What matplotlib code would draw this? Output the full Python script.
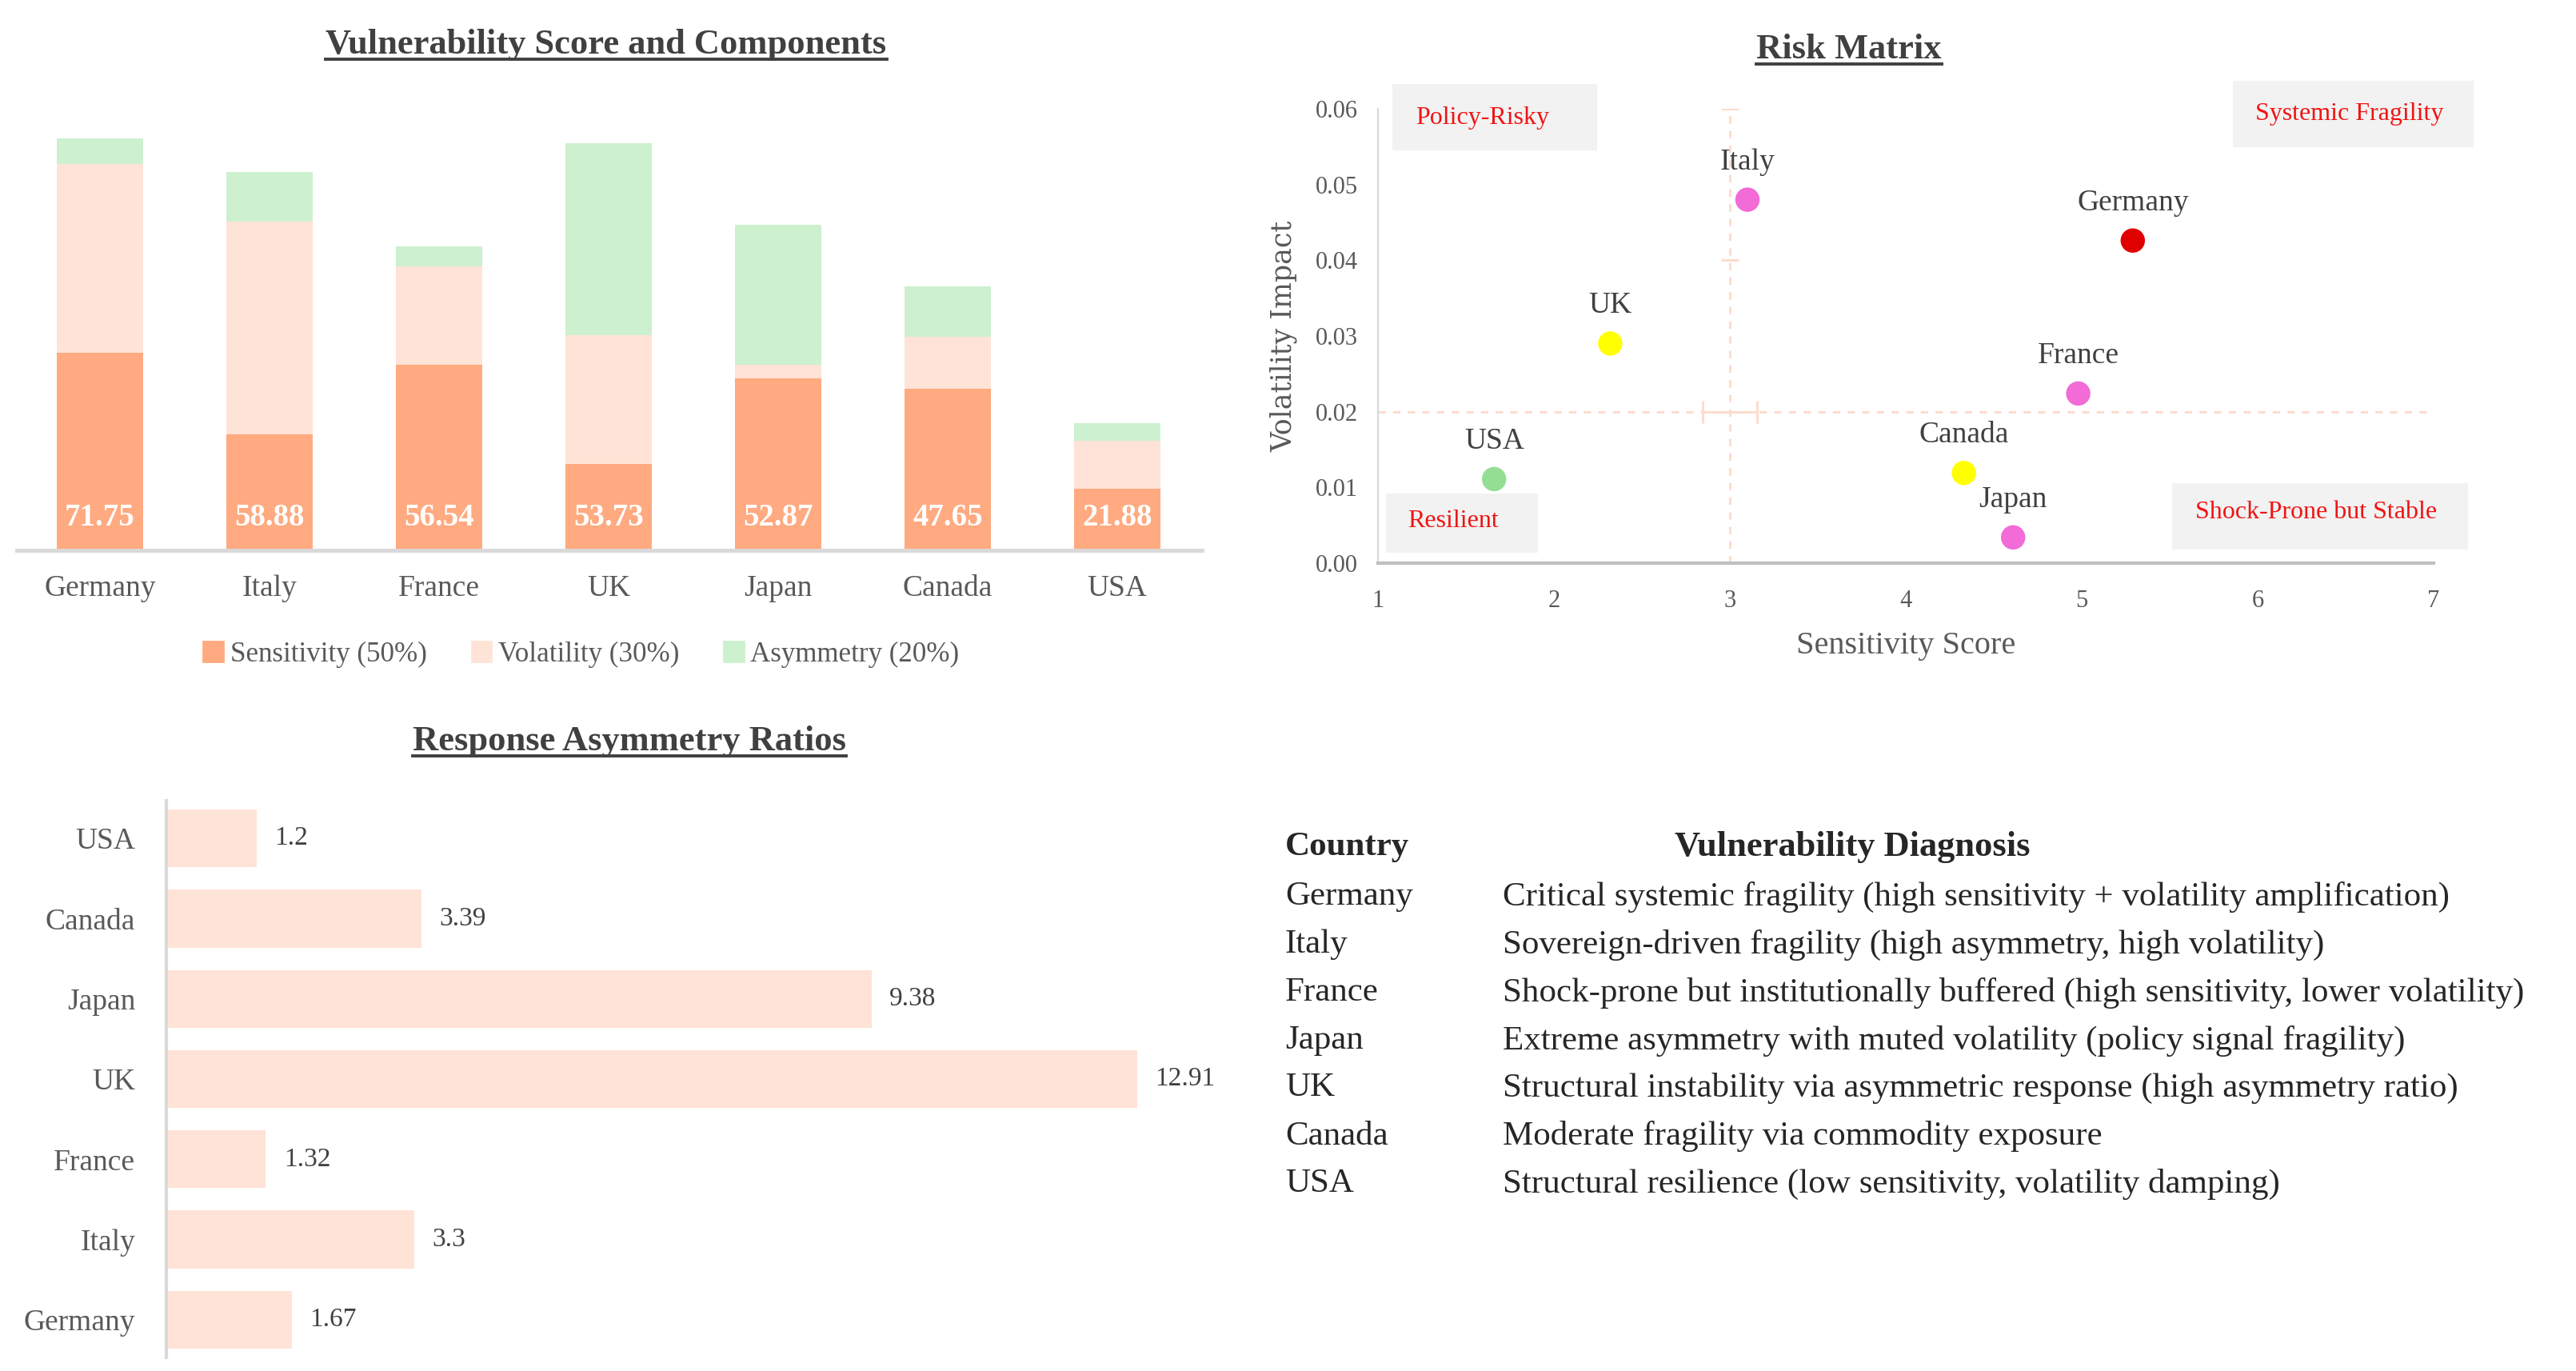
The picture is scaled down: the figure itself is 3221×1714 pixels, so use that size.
import matplotlib
matplotlib.use("Agg")
import matplotlib.pyplot as plt
from matplotlib.patches import Rectangle, Patch
from matplotlib.lines import Line2D
import numpy as np

# ---------------- data ----------------
countries = ["Germany", "Italy", "France", "UK", "Japan", "Canada", "USA"]
vuln_scores = [71.75, 58.88, 56.54, 53.73, 52.87, 47.65, 21.88]
sens_comp = [2.645, 1.55, 2.49, 1.16, 2.305, 2.165, 0.83]
vol_comp = [2.54, 2.86, 1.32, 1.72, 0.18, 0.70, 0.64]
asym_comp = [0.334, 0.66, 0.264, 2.582, 1.876, 0.678, 0.24]
legend_labels = ["Sensitivity (50%)", "Volatility (30%)", "Asymmetry (20%)"]

sens_score = [5.29, 3.10, 4.98, 2.32, 4.61, 4.33, 1.66]
vol_impact = [0.0426, 0.0480, 0.0224, 0.0290, 0.0034, 0.0119, 0.0111]
point_colors = ["#E00000", "#F26BD6", "#F26BD6", "#FFFF00", "#F26BD6", "#FFFF00", "#94DE94"]
sens_threshold = 3.0
vol_threshold = 0.02

ratio_countries = ["Germany", "Italy", "France", "UK", "Japan", "Canada", "USA"]
asym_ratios = [1.67, 3.3, 1.32, 12.91, 9.38, 3.39, 1.2]

table_countries = ["Germany", "Italy", "France", "Japan", "UK", "Canada", "USA"]
diagnoses = [
    "Critical systemic fragility (high sensitivity + volatility amplification)",
    "Sovereign-driven fragility (high asymmetry, high volatility)",
    "Shock-prone but institutionally buffered (high sensitivity, lower volatility)",
    "Extreme asymmetry with muted volatility (policy signal fragility)",
    "Structural instability via asymmetric response (high asymmetry ratio)",
    "Moderate fragility via commodity exposure",
    "Structural resilience (low sensitivity, volatility damping)",
]

# ---------------- style ----------------
W, H, DPI = 3221, 1714, 200
plt.rcParams["font.family"] = ["Liberation Serif", "DejaVu Serif"]
C_SENS = "#FFAA80"
C_VOL = "#FFE3D6"
C_ASYM = "#CDF0CF"
C_TICK = "#595959"
C_TITLE = "#404040"
C_SPINE = "#D9D9D9"

fig = plt.figure(figsize=(W / DPI, H / DPI), dpi=DPI)

def fx(px):
    return px / W

def fy(py):
    return 1 - py / H

# ---------------- stacked bar ----------------
ax1 = fig.add_axes([fx(21), fy(688), fx(1503 - 21), (688 - 136) / H])
x = np.arange(len(countries))
bw = 0.51
ax1.bar(x, sens_comp, bw, color=C_SENS, label=legend_labels[0])
ax1.bar(x, vol_comp, bw, bottom=sens_comp, color=C_VOL, label=legend_labels[1])
ax1.bar(x, asym_comp, bw, bottom=np.array(sens_comp) + np.array(vol_comp),
        color=C_ASYM, label=legend_labels[2])
for xi, s in zip(x, vuln_scores):
    ax1.text(xi, 0.43, f"{s:.2f}", ha="center", va="center", color="white",
             fontsize=14, fontweight="bold")
ax1.set_xlim(-0.49, 6.5)
ax1.set_ylim(0, 5.92)
ax1.set_xticks(x)
ax1.set_xticklabels(countries, fontsize=13.5, color=C_TICK)
ax1.tick_params(axis="x", length=0, pad=11)
ax1.set_yticks([])
for s in ["top", "right", "left"]:
    ax1.spines[s].set_visible(False)
ax1.spines["bottom"].set_color(C_SPINE)
ax1.spines["bottom"].set_linewidth(1.8)

handles = [Patch(color=C_SENS), Patch(color=C_VOL), Patch(color=C_ASYM)]
fig.legend(handles, legend_labels, loc="center", bbox_to_anchor=(fx(727), fy(818)),
           ncol=3, frameon=False, fontsize=12.6, handlelength=0.7, handleheight=0.7,
           handletextpad=0.25, columnspacing=1.6, labelcolor=C_TICK)

# ---------------- scatter ----------------
ax2 = fig.add_axes([fx(1723), fy(704), fx(3043 - 1723), (704 - 136) / H])
ax2.set_xlim(1, 7)
ax2.set_ylim(0, 0.06)
lc = "#FDDCCD"
ax2.axvline(sens_threshold, color=lc, ls=(0, (3, 3)), lw=1.1, zorder=1)
ax2.axhline(vol_threshold, color=lc, ls=(0, (3, 3)), lw=1.1, zorder=1)
ax2.errorbar([sens_threshold], [vol_threshold], xerr=0.155, fmt="none", ecolor=lc,
             elinewidth=1.1, capsize=5, capthick=1.1, zorder=1)
ax2.errorbar([sens_threshold], [0.05], yerr=0.01, fmt="none", ecolor=lc,
             elinewidth=0, capsize=4, capthick=1.1, zorder=1)

ax2.scatter(sens_score, vol_impact, s=120, c=point_colors, zorder=3, linewidths=0)
for c, xv, yv in zip(countries, sens_score, vol_impact):
    ax2.annotate(c, (xv, yv), xytext=(0, 17), textcoords="offset points",
                 ha="center", va="center", fontsize=13.5, color=C_TITLE)

boxes = [
    ("Policy-Risky", 1.082, 2.245, 0.0545, 0.0633, 1.214, 0.0588, "left"),
    ("Systemic Fragility", 5.86, 7.227, 0.0549, 0.0637, 6.52, 0.0593, "center"),
    ("Resilient", 1.045, 1.909, 0.00137, 0.00919, 1.168, 0.0055, "left"),
    ("Shock-Prone but Stable", 5.514, 7.195, 0.0018, 0.01056, 6.33, 0.00676, "center"),
]
for txt, x0, x1, y0, y1, tx, ty, ha in boxes:
    ax2.add_patch(Rectangle((x0, y0), x1 - x0, y1 - y0, facecolor="#F2F2F2",
                            edgecolor="none", clip_on=False, zorder=0.5))
    ax2.text(tx, ty, txt, ha=ha, va="center", color="#F01414", fontsize=11.5,
             zorder=2, clip_on=False)

ax2.set_xticks(range(1, 8))
ax2.set_yticks(np.arange(0, 0.061, 0.01))
ax2.set_yticklabels([f"{v:.2f}" for v in np.arange(0, 0.061, 0.01)])
ax2.tick_params(length=0, labelsize=11, labelcolor=C_TICK)
ax2.tick_params(axis="x", pad=12)
ax2.tick_params(axis="y", pad=9)
for s in ["top", "right"]:
    ax2.spines[s].set_visible(False)
ax2.spines["left"].set_color(C_SPINE)
ax2.spines["bottom"].set_color("#BFBFBF")
ax2.spines["bottom"].set_linewidth(1.5)
ax2.set_xlabel("Sensitivity Score", fontsize=14.5, color=C_TICK, labelpad=8)
ax2.set_ylabel("Volatility Impact", fontsize=12.5, color=C_TICK, labelpad=8,
               family=["DejaVu Serif"])

# ---------------- horizontal bars ----------------
ax3 = fig.add_axes([fx(208), fy(1697), fx(1524 - 208), (1697 - 1001) / H])
y = np.arange(len(ratio_countries))
ax3.barh(y, asym_ratios, 0.72, color=C_VOL)
for yi, v in zip(y, asym_ratios):
    ax3.text(v + 0.24, yi, f"{v:g}", ha="left", va="center", fontsize=12, color=C_TITLE)
ax3.set_xlim(0, 14)
ax3.set_ylim(-0.47, 6.47)
ax3.set_yticks(y)
ax3.set_yticklabels(ratio_countries, fontsize=13.5, color=C_TICK)
ax3.tick_params(axis="y", length=0, pad=14)
ax3.set_xticks([])
for s in ["top", "right", "bottom"]:
    ax3.spines[s].set_visible(False)
ax3.spines["left"].set_color(C_SPINE)
ax3.spines["left"].set_linewidth(1.5)

# ---------------- table ----------------
tc = "#262626"
fig.text(fx(1607), fy(1059), "Country", fontsize=15.5, fontweight="bold", color=tc,
         ha="left", va="center")
fig.text(fx(2094), fy(1059), "Vulnerability Diagnosis", fontsize=16,
         fontweight="bold", color=tc, ha="left", va="center")
row_y = [1121, 1181, 1241, 1301, 1360, 1421, 1480]
for ry, c, d in zip(row_y, table_countries, diagnoses):
    fig.text(fx(1607), fy(ry), c, fontsize=15.5, color=tc, ha="left", va="center")
    fig.text(fx(1879), fy(ry), d, fontsize=15.5, color=tc, ha="left", va="center")

# ---------------- titles with underline ----------------
titles = [
    ("Vulnerability Score and Components", 758, 56),
    ("Risk Matrix", 2312, 62),
    ("Response Asymmetry Ratios", 787, 927),
]
ttexts = []
for t, px, py in titles:
    ttexts.append(fig.text(fx(px), fy(py), t, fontsize=16, fontweight="bold",
                           color=C_TITLE, ha="center", va="center"))
fig.canvas.draw()
r = fig.canvas.get_renderer()
for tt in ttexts:
    bb = tt.get_window_extent(r)
    yline = bb.y0 + 2
    fig.add_artist(Line2D([bb.x0 / W, bb.x1 / W], [yline / H, yline / H],
                          color=C_TITLE, lw=1.4))

fig.savefig("out.png", dpi=DPI, facecolor="white")
